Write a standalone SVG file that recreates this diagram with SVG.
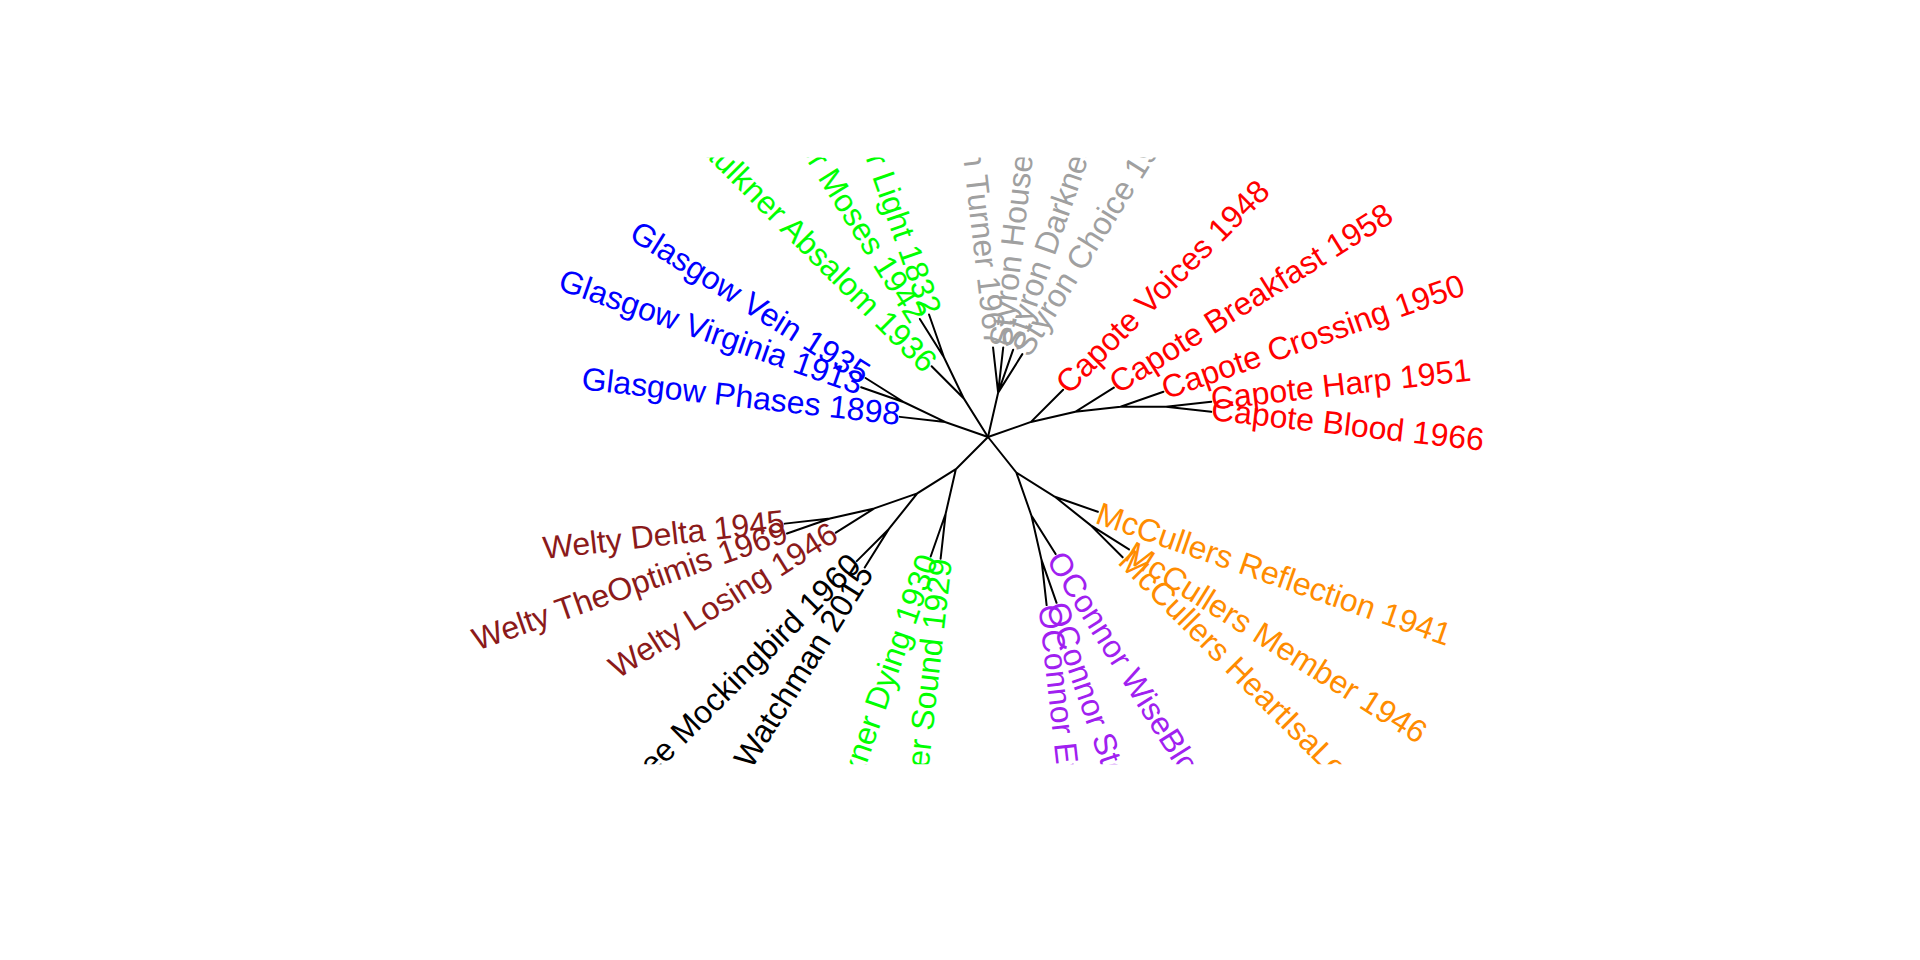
<svg xmlns="http://www.w3.org/2000/svg" width="1920" height="960" viewBox="0 0 1920 960">
<defs>
<clipPath id="plot"><rect x="157.4" y="157.4" width="1682" height="606.8"/></clipPath>
<style>
text{font-family:"Liberation Sans",Arial,sans-serif;font-size:32px}
.s{text-anchor:start}.e{text-anchor:end}
.d{dominant-baseline:auto}
.cap{fill:#FF0000}.mcc{fill:#FF8C00}.oc{fill:#A020F0}.fau{fill:#00FF00}.lee{fill:#000000}.wel{fill:#8B1A1A}.gla{fill:#0000FF}.sty{fill:#A0A0A0}
.edges{fill:none;stroke:#000;stroke-width:2;stroke-linecap:round}
</style>
</defs>
<rect width="1920" height="960" fill="#fff"/>
<g id="connectors" class="edges">
<path d="M988,437L1030.95,421.97L1063.12,389.80M1030.95,421.97L1075.31,411.84L1113.84,387.64M1075.31,411.84L1120.52,406.75L1163.47,391.72M1120.52,406.75L1166.02,406.75L1211.24,401.65M1166.02,406.75L1211.24,411.84"/>
<path d="M988,437L1016.37,472.57L1054.90,496.78L1097.84,511.81M1054.90,496.78L1090.47,525.15L1129.00,549.36M1090.47,525.15L1122.65,557.32M1016.37,472.57L1031.40,515.52L1055.61,554.04M1031.40,515.52L1041.52,559.88L1056.55,602.83M1041.52,559.88L1046.62,605.09"/>
<path d="M988,437L955.83,469.17L945.70,513.53L940.61,558.75M945.70,513.53L930.67,556.47M955.83,469.17L917.30,493.38L888.93,528.95L864.73,567.48M888.93,528.95L856.76,561.13M917.30,493.38L874.36,508.41L835.83,532.61M874.36,508.41L830.00,518.53L787.05,533.56M830.00,518.53L784.79,523.63"/>
<path d="M988,437L945.05,421.97L899.84,416.87M945.05,421.97L904.06,402.23L861.11,387.20M904.06,402.23L865.53,378.02"/>
<path d="M988,437L963.79,398.47L931.62,366.30M963.79,398.47L944.05,357.48L919.84,318.95M944.05,357.48L929.02,314.53"/>
<path d="M988,437L998.13,392.64L993.03,347.43M998.13,392.64L1003.22,347.43M998.13,392.64L1013.16,349.69M998.13,392.64L1022.34,354.11"/>
</g>
<g id="labels" clip-path="url(#plot)">
<g id="capote-voices"><text class="cap s" transform="translate(1063.12,389.80) rotate(-45)" dy="8.2">Capote Voices 1948</text></g>
<g id="capote-breakfast"><text class="cap s" transform="translate(1113.84,387.64) rotate(-32.14)" dy="8.2">Capote Breakfast 1958</text></g>
<g id="capote-crossing"><text class="cap s" transform="translate(1163.47,391.72) rotate(-19.29)" dy="8.2">Capote Crossing 1950</text></g>
<g id="capote-harp"><text class="cap s" transform="translate(1211.24,401.65) rotate(-6.43)" dy="8.2">Capote Harp 1951</text></g>
<g id="capote-blood"><text class="cap s" transform="translate(1211.24,411.84) rotate(6.43)" dy="8.2">Capote Blood 1966</text></g>
<g id="mccullers-reflection"><text class="mcc s" transform="translate(1097.84,511.81) rotate(19.29)" dy="11.5">McCullers Reflection 1941</text></g>
<g id="mccullers-member"><text class="mcc s" transform="translate(1129.00,549.36) rotate(32.14)" dy="11.5">McCullers Member 1946</text></g>
<g id="mccullers-heart"><text class="mcc s" transform="translate(1122.65,557.32) rotate(45)" dy="8.2">McCullers HeartIsaLonelyHunter 1940</text></g>
<g id="oconnor-wiseblood"><text class="oc s" transform="translate(1055.61,554.04) rotate(57.86)" dy="11.5">OConnor WiseBlood 1952</text></g>
<g id="oconnor-stories"><text class="oc s" transform="translate(1056.55,602.83) rotate(70.71)" dy="11.5">OConnor Stories 1971</text></g>
<g id="oconnor-everything"><text class="oc s" transform="translate(1046.62,605.09) rotate(83.57)" dy="8.2">OConnor Everything 1965</text></g>
<g id="faulkner-sound"><text class="fau e" transform="translate(940.61,558.75) rotate(-83.57)" dy="11.5">Faulkner Sound 1929</text></g>
<g id="faulkner-dying"><text class="fau e" transform="translate(930.67,556.47) rotate(-70.71)" dy="8.2">Faulkner Dying 1930</text></g>
<g id="lee-watchman"><text class="lee e" transform="translate(864.73,567.48) rotate(-57.86)" dy="11.5">Lee Watchman 2015</text></g>
<g id="lee-mockingbird"><text class="lee e" transform="translate(856.76,561.13) rotate(-45)" dy="8.2">Lee Mockingbird 1960</text></g>
<g id="welty-losing"><text class="wel e" transform="translate(835.83,532.61) rotate(-32.14)" dy="8.2">Welty Losing 1946</text></g>
<g id="welty-optimis"><text class="wel e" transform="translate(787.05,533.56) rotate(-19.29)" dy="8.2">Welty TheOptimis 1969</text></g>
<g id="welty-delta"><text class="wel e" transform="translate(784.79,523.63) rotate(-6.43)" dy="8.2">Welty Delta 1945</text></g>
<g id="glasgow-phases"><text class="gla e" transform="translate(899.84,416.87) rotate(6.43)" dy="8.2">Glasgow Phases 1898</text></g>
<g id="glasgow-virginia"><text class="gla e" transform="translate(861.11,387.20) rotate(19.29)" dy="8.2">Glasgow Virginia 1913</text></g>
<g id="glasgow-vein"><text class="gla e" transform="translate(865.53,378.02) rotate(32.14)" dy="8.2">Glasgow Vein 1935</text></g>
<g id="faulkner-absalom"><text class="fau e" transform="translate(931.62,366.30) rotate(45)" dy="11.5">Faulkner Absalom 1936</text></g>
<g id="faulkner-moses"><text class="fau e" transform="translate(919.84,318.95) rotate(57.86)" dy="11.5">Faulkner Moses 1942</text></g>
<g id="faulkner-light"><text class="fau e" transform="translate(929.02,314.53) rotate(70.71)" dy="8.2">Faulkner Light 1832</text></g>
<g id="styron-turner"><text class="sty e" transform="translate(993.03,347.43) rotate(83.57)" dy="8.2">Styron Turner 1967</text></g>
<g id="styron-house"><text class="sty s" transform="translate(1003.22,347.43) rotate(-83.57)" dy="8.2">Styron House 1960</text></g>
<g id="styron-darkness"><text class="sty s" transform="translate(1013.16,349.69) rotate(-70.71)" dy="8.2">Styron Darkness 1951</text></g>
<g id="styron-choice"><text class="sty s" transform="translate(1022.34,354.11) rotate(-57.86)" dy="8.2">Styron Choice 1979</text></g>
</g>
</svg>
